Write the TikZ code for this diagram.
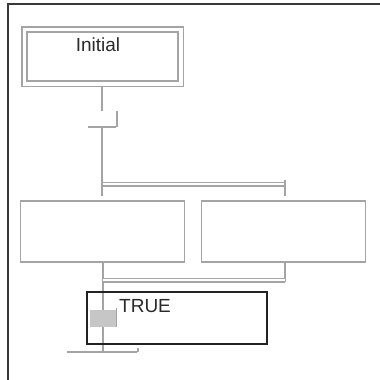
\documentclass[tikz,border=0pt]{standalone}
\usepackage{fontspec}
\setmainfont{Liberation Sans}
\usetikzlibrary{positioning, fit}
\definecolor{sfcLineS}{HTML}{A4A4A4}
\definecolor{sfcFrameS}{HTML}{383838}
\definecolor{sfcActS}{HTML}{222222}
\definecolor{sfcMarkF}{HTML}{C6C6C6}
\definecolor{sfcText}{HTML}{2A2A2A}
\tikzset{
  sfcBase/.style={rectangle, draw=sfcLineS, line width=1.6pt, inner sep=0pt},
  sfcStep/.style={sfcBase, minimum width=164pt, minimum height=61pt},
  sfcTrans/.style={sfcBase, minimum height=0pt},
  sfcLink/.style={draw=sfcLineS, line width=1.6pt},
  sfcPar/.style={draw=sfcLineS, double=white, line width=1.4pt, double distance=2.2pt},
  sfcLab/.style={font=\fontsize{19}{21}\selectfont, text=sfcText, inner sep=0pt},
  sfcFrame/.style={draw=sfcFrameS, line width=2.2pt},
}

\begin{document}
\begin{tikzpicture}[x=1pt, y=-1pt]
  \useasboundingbox (0,0) rectangle (380,380);

  % ─── Frame ────────────────────────────────────────────────────────────────────
  \draw[sfcFrame] (8,380) -- (8,4) -- (380,4);

  % ─── Initial step (double box) ────────────────────────────────────────────────
  \node[sfcBase, minimum width=151pt, minimum height=49pt] (init) at (102.5,56.5) {};
  \node[sfcBase, fit=(init), inner sep=4.5pt] (initOuter) {};
  \node[sfcLab] (initLab) at (98,45) {Initial};

  % ─── Transition after the initial step ────────────────────────────────────────
  \node[sfcTrans, minimum width=28pt] (t1) at (102,127) {};
  \draw[sfcLink] (initOuter.south -| t1) -- ++(0,24);
  \draw[sfcLink] (t1.east) -- ++(0,-16);

  % ─── Simultaneous divergence ──────────────────────────────────────────────────
  \node[sfcStep] (s1) at (102.5,231.5) {};
  \node[sfcStep] (s2) at (283.5,231.5) {};
  \coordinate (divL) at (103,184);
  \coordinate (divR) at (285,184);
  \draw[sfcPar] (divL) -- (divR);
  \draw[sfcLink] (t1.center) -- ([yshift=4pt]t1 |- s1.north);
  \draw[sfcLink] ([yshift=4pt]divR) -- ([yshift=4pt]divR |- s2.north);

  % ─── Simultaneous convergence ─────────────────────────────────────────────────
  \coordinate (convL) at (103,280);
  \coordinate (convR) at (285,280);
  \node[sfcTrans, minimum width=70pt] (t2) at (102,352) {};
  \draw[sfcLink] (convL |- s1.south) -- (convL |- t2);
  \draw[sfcLink] (convR |- s2.south) -- ([yshift=-2pt]convR);
  \draw[sfcPar] (convL) -- (convR);
  \draw[sfcLink] (t2.east) -- ++(0,-4);

  % ─── Active step ──────────────────────────────────────────────────────────────
  \node[draw=sfcActS, line width=2.3pt, minimum width=180pt, minimum height=52pt] (sTrue) at (177,318) {};
  \node[fill=sfcMarkF, minimum width=26pt, minimum height=17pt, inner sep=0pt] (mark) at (103,318.5) {};
  \draw[draw=sfcLineS, line width=1.2pt] ([yshift=2pt]mark.north east) -- (mark.south east);
  \node[sfcLab, anchor=west] (trueLab) at (119,306) {TRUE};

\end{tikzpicture}
\end{document}
